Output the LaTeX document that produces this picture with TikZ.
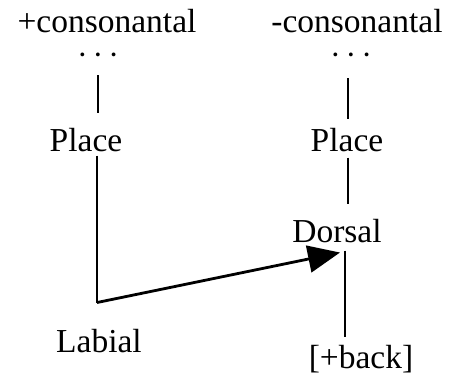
\documentclass[tikz,border=0pt]{standalone}
\usepackage{fontspec}
\setmainfont{Liberation Serif}
\usetikzlibrary{arrows.meta}
\begin{document}
\begin{tikzpicture}[x=1pt,y=-1pt,
  lbl/.style={inner sep=0pt, anchor=base, font=\fontsize{33.5}{40}\selectfont},
  dotsnode/.style={inner sep=0pt, anchor=base, font=\fontsize{32}{36}\selectfont},
  conn/.style={line width=2.8pt}]
\fill[white] (0,0) rectangle (455,377);
\useasboundingbox (0,0) rectangle (455,377);
% texts
\node[lbl] (consP) at (107,33) {+consonantal};
\node[lbl] (consM) at (357,33) {-consonantal};
\node[dotsnode] (dotsL) at (98,66) {·\kern5pt·\kern5pt·};
\node[dotsnode] (dotsR) at (351,66) {·\kern5pt·\kern5pt·};
\node[lbl] (placeL) at (86,152) {Place};
\node[lbl] (placeR) at (347,152) {Place};
\node[lbl] (dorsal) at (337,242) {Dorsal};
\node[lbl] (labial) at (99,352) {Labial};
\node[lbl] (back) at (361,368) {[+back]};
% connectors
\draw[conn, shorten <=9pt, shorten >=16pt] (dotsL.south) -- (dotsL.south |- placeL.north);
\draw[conn, shorten <=12pt, shorten >=10pt] ([xshift=1pt]placeR.north |- dotsR.south) -- ([xshift=1pt]placeR.north);
\coordinate (corner) at ([xshift=11pt,yshift=-150pt]placeL.south);
\coordinate (tip) at ([xshift=3pt,yshift=-10pt]dorsal.south);
\draw[conn, shorten <=3pt] ([xshift=11pt]placeL.south) -- (corner);
\draw[conn, -{Triangle[length=32pt,width=27pt]}, line join=round] (corner) -- (tip);
\draw[conn, shorten <=5pt, shorten >=15pt] ([xshift=1pt]placeR.south) -- ([xshift=1pt]placeR.south |- dorsal.north);
\draw[conn, shorten <=8pt, shorten >=8pt] ([xshift=8pt]dorsal.south) -- ([xshift=8pt]dorsal.south |- back.north);
\end{tikzpicture}
\end{document}
